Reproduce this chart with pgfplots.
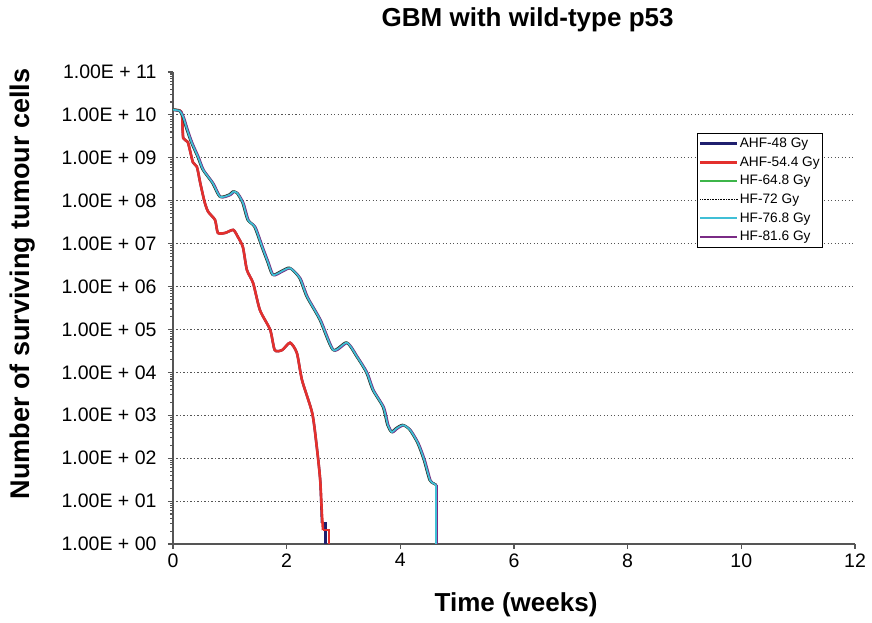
\documentclass[border=0pt]{standalone}
\usepackage{fontspec}
\setmainfont{Liberation Sans}
\usepackage{pgfplots}
\usepackage{pgfplotstable}
\pgfplotsset{compat=1.18}

\definecolor{cNavy}{HTML}{1F1F6E}
\definecolor{cRed}{HTML}{E3302D}
\definecolor{cGreen}{HTML}{3DB54A}
\definecolor{cCyan}{HTML}{40BFD6}
\definecolor{cPurple}{HTML}{7A2B85}
\definecolor{cAxis}{HTML}{555555}

% HF schedules (curves overlap)
\pgfplotstableread{
t n
0.00 1.32e10
0.12 1.23e10
0.18 8.9e9
0.25 4.47e9
0.33 2.24e9
0.44 1.05e9
0.53 5.25e8
0.70 2.57e8
0.83 1.23e8
1.00 1.38e8
1.06 1.62e8
1.13 1.51e8
1.23 8.9e7
1.32 3.55e7
1.44 2.45e7
1.57 8.3e6
1.67 3.7e6
1.76 1.86e6
1.92 2.29e6
2.06 2.69e6
2.23 1.58e6
2.36 5.75e5
2.59 1.66e5
2.82 3.31e4
3.06 4.9e4
3.24 2.29e4
3.41 9.8e3
3.52 3.89e3
3.70 1.55e3
3.78 589
3.85 407
3.94 501
4.05 589
4.17 457
4.31 224
4.42 91
4.52 31
4.58 26
4.63 24
}\hfdata

% AHF-54.4 Gy
\pgfplotstableread{
t n
0.00 1.32e10
0.12 1.26e10
0.16 1.0e10
0.18 2.88e9
0.26 2.34e9
0.35 7.9e8
0.42 6.2e8
0.48 2.57e8
0.56 8.9e7
0.62 5.5e7
0.74 3.55e7
0.79 1.78e7
0.92 1.78e7
1.06 2.09e7
1.14 1.45e7
1.23 8.3e6
1.30 2.45e6
1.41 1.2e6
1.53 2.82e5
1.71 9.8e4
1.79 3.31e4
1.92 3.31e4
2.06 4.9e4
2.18 2.82e4
2.27 6.6e3
2.45 1.12e3
2.53 182
2.59 31
2.62 5.2
2.64 2.1
}\ahfb

% AHF-48 Gy
\pgfplotstableread{
t n
0.00 1.32e10
0.12 1.26e10
0.16 1.0e10
0.18 2.88e9
0.26 2.34e9
0.35 7.9e8
0.42 6.2e8
0.48 2.57e8
0.56 8.9e7
0.62 5.5e7
0.74 3.55e7
0.79 1.78e7
0.92 1.78e7
1.06 2.09e7
1.14 1.45e7
1.23 8.3e6
1.30 2.45e6
1.41 1.2e6
1.53 2.82e5
1.71 9.8e4
1.79 3.31e4
1.92 3.31e4
2.06 4.9e4
2.18 2.82e4
2.27 6.6e3
2.45 1.12e3
2.53 182
2.59 31
2.62 3.1
}\ahfa

% final steps down to the axis (not smoothed)
\pgfplotstableread{
t n
4.63 24
4.63 1
}\hfend
\pgfplotstableread{
t n
2.64 2.1
2.745 2.1
2.745 1
}\ahfbend
\pgfplotstableread{
t n
2.62 3.1
2.68 3.1
2.68 1
}\ahfaend

\begin{document}
\begin{tikzpicture}
\path[use as bounding box] (-173pt,-79pt) rectangle (699pt,544pt);
\begin{axis}[
    scale only axis,
    width=682pt, height=472pt,
    ymode=log,
    xmin=0, xmax=12, ymin=1, ymax=1e11,
    xtick={0,2,...,12},
    ytick={1,1e1,1e2,1e3,1e4,1e5,1e6,1e7,1e8,1e9,1e10,1e11},
    yticklabels={1.00E + 00,1.00E + 01,1.00E + 02,1.00E + 03,1.00E + 04,1.00E + 05,1.00E + 06,1.00E + 07,1.00E + 08,1.00E + 09,1.00E + 10,1.00E + 11},
    extra y ticks={1e1,1e2,1e3,1e4,1e5,1e6,1e7,1e8,1e9,1e10},
    extra y tick labels={},
    extra y tick style={grid=major, major tick length=0pt},
    grid style={cAxis, line width=1pt, dash pattern=on 1.3pt off 2.2pt},
    axis x line*=bottom, axis y line*=left,
    axis line style={cAxis, line width=1.3pt, -},
    tick style={cAxis, line width=1.1pt},
    tick align=outside, major tick length=5pt,
    minor tick num=0,
    ticklabel style={font=\fontsize{19.5}{21}\selectfont},
    /pgf/number format/assume math mode=true,
    yticklabel style={xshift=-8pt},
    xticklabel style={yshift=-1pt},
    title={\bfseries GBM with wild-type p53},
    title style={font=\fontsize{26}{28}\selectfont, at={(axis description cs:0.52,1.098)}, anchor=center},
    xlabel={\bfseries Time (weeks)},
    xlabel style={font=\fontsize{26}{28}\selectfont, at={(axis description cs:0.503,-0.129)}, anchor=center},
    ylabel={\bfseries Number of surviving tumour cells},
    ylabel style={font=\fontsize{27}{29}\selectfont, at={(axis description cs:-0.221,0.551)}, anchor=center},
    legend cell align=left,
    legend style={draw=black, line width=0.8pt, at={(rel axis cs:0.768,0.871)}, anchor=north west,
        font=\fontsize{13.7}{15}\selectfont, inner xsep=2pt, inner ysep=1pt, row sep=0pt,
        nodes={inner ysep=2.5pt, inner xsep=1pt, text height=10.7pt, text depth=3pt}},
    legend image code/.code={\draw[#1] (0pt,0pt) -- (37pt,0pt);},
]
% drawing order chosen so the overlapping curves look like the reference
\addplot[cNavy, line width=2.4pt, smooth, tension=0.4, forget plot] table[x=t,y=n] {\ahfa};
\addplot[cNavy, line width=2.4pt, forget plot] table[x=t,y=n] {\ahfaend};
\addplot[cRed, line width=2.6pt, smooth, tension=0.4, forget plot] table[x=t,y=n] {\ahfb};
\addplot[cRed, line width=2.6pt, forget plot] table[x=t,y=n] {\ahfbend};
\addplot[cGreen, line width=2.4pt, smooth, tension=0.4, forget plot] table[x=t,y=n] {\hfdata};
\addplot[cPurple, line width=2.2pt, xshift=0.7pt, yshift=-0.3pt, smooth, tension=0.4, forget plot] table[x=t,y=n] {\hfdata};
\addplot[cPurple, line width=1.6pt, xshift=0.7pt, forget plot] table[x=t,y=n] {\hfend};
\addplot[black!80, line width=2.2pt, xshift=-0.6pt, yshift=0.3pt, smooth, tension=0.4, forget plot] table[x=t,y=n] {\hfdata};
\addplot[cCyan, line width=1.7pt, smooth, tension=0.4, forget plot] table[x=t,y=n] {\hfdata};
\addplot[cCyan, line width=1.6pt, forget plot] table[x=t,y=n] {\hfend};

\addlegendimage{cNavy, line width=2.6pt}
\addlegendentry{AHF-48 Gy}
\addlegendimage{cRed, line width=2.6pt}
\addlegendentry{AHF-54.4 Gy}
\addlegendimage{cGreen, line width=2.6pt}
\addlegendentry{HF-64.8 Gy}
\addlegendimage{black, line width=0.9pt, dash pattern=on 1pt off 0.6pt}
\addlegendentry{HF-72 Gy}
\addlegendimage{cCyan, line width=2pt, dash pattern=on 1.2pt off 0.3pt}
\addlegendentry{HF-76.8 Gy}
\addlegendimage{cPurple, line width=2.6pt}
\addlegendentry{HF-81.6 Gy}
\end{axis}
\end{tikzpicture}
\end{document}
